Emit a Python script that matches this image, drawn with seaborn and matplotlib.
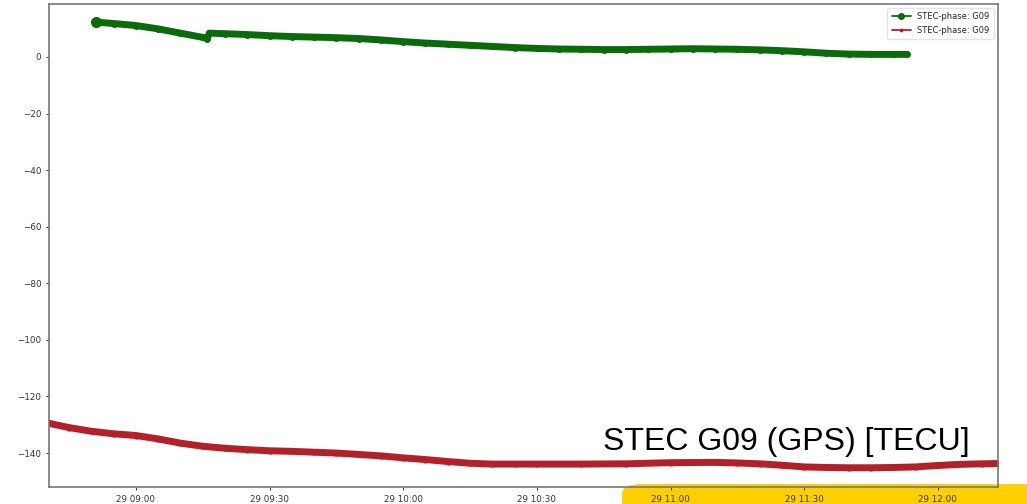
import matplotlib
matplotlib.use("Agg")
import matplotlib.pyplot as plt
import matplotlib.dates as mdates
from matplotlib.lines import Line2D
from matplotlib.patches import FancyBboxPatch
import pandas as pd
import seaborn as sns

DAY = "2023-03-29"

# Phase-derived STEC, satellite G09 (upper arc)
green_times = ["08:51:00", "08:55:00", "09:00:00", "09:05:00", "09:10:00", "09:15:00", "09:16:00",
               "09:16:30", "09:20:00", "09:25:00", "09:30:00", "09:35:00", "09:40:00", "09:45:00",
               "09:50:00", "09:55:00", "10:00:00", "10:05:00", "10:10:00", "10:15:00", "10:20:00",
               "10:25:00", "10:30:00", "10:35:00", "10:40:00", "10:45:00", "10:50:00", "10:55:00",
               "11:00:00", "11:05:00", "11:10:00", "11:15:00", "11:20:00", "11:25:00", "11:30:00",
               "11:35:00", "11:40:00", "11:45:00", "11:50:00", "11:53:00"]
green_tecu = [12.3, 11.8, 11.1, 9.9, 8.4, 6.9, 6.5,
              8.4, 8.2, 7.9, 7.5, 7.2, 7.0, 6.8,
              6.5, 6.0, 5.4, 4.9, 4.5, 4.1, 3.7,
              3.3, 3.0, 2.8, 2.7, 2.6, 2.6, 2.7,
              2.8, 2.9, 2.8, 2.7, 2.5, 2.2, 1.8,
              1.3, 1.0, 0.9, 0.9, 0.9]

# Phase-derived STEC, satellite G09 (lower arc)
red_times = ["08:40:30", "08:45:00", "08:50:00", "08:55:00", "09:00:00", "09:05:00", "09:10:00",
             "09:15:00", "09:20:00", "09:25:00", "09:30:00", "09:35:00", "09:40:00", "09:45:00",
             "09:50:00", "09:55:00", "10:00:00", "10:05:00", "10:10:00", "10:15:00", "10:20:00",
             "10:25:00", "10:30:00", "10:40:00", "10:50:00", "11:00:00", "11:10:00", "11:15:00",
             "11:20:00", "11:25:00", "11:30:00", "11:35:00", "11:40:00", "11:45:00", "11:50:00",
             "11:55:00", "12:00:00", "12:05:00", "12:10:00", "12:13:30"]
red_tecu = [-129.5, -131.0, -132.3, -133.2, -133.8, -135.0, -136.5,
            -137.6, -138.3, -138.8, -139.2, -139.4, -139.7, -140.0,
            -140.5, -141.0, -141.7, -142.3, -143.0, -143.6, -143.9,
            -143.9, -143.9, -143.9, -143.8, -143.4, -143.3, -143.5,
            -143.8, -144.3, -144.9, -145.1, -145.2, -145.2, -145.1,
            -144.9, -144.4, -144.0, -143.8, -143.7]

series_label = "STEC-phase: G09"
panel_title = "STEC G09 (GPS) [TECU]"


def to_stamps(times):
    return pd.to_datetime([f"{DAY} {t}" for t in times], format="%Y-%m-%d %H:%M:%S")


green_df = pd.DataFrame({"time": to_stamps(green_times), "stec": green_tecu})
red_df = pd.DataFrame({"time": to_stamps(red_times), "stec": red_tecu})

sns.set_theme(style="ticks")
plt.rcParams["font.family"] = ["DejaVu Sans"]

fig = plt.figure(figsize=(10.27, 5.04), dpi=100, facecolor="white")
ax = fig.add_axes([49 / 1027, 1 - 487 / 504, (998 - 49) / 1027, (487 - 4) / 504])
ax.patch.set_alpha(0)

GREEN = "#0b6b0b"
RED = "#b3202a"

sns.lineplot(data=green_df, x="time", y="stec", ax=ax, color=GREEN, linewidth=5,
             marker="o", markersize=5, markeredgewidth=0, legend=False)
sns.lineplot(data=red_df, x="time", y="stec", ax=ax, color=RED, linewidth=5,
             marker="o", markersize=4.5, markeredgewidth=0, legend=False)
# first epoch of the upper arc
ax.plot(green_df["time"].iloc[:1], green_df["stec"].iloc[:1], "o", color=GREEN, ms=7)

ax.set_xlim(pd.Timestamp(f"{DAY} 08:40:30"), pd.Timestamp(f"{DAY} 12:13:30"))
ax.set_ylim(-152, 18.7)
ax.set_yticks([0, -20, -40, -60, -80, -100, -120, -140])
ax.xaxis.set_major_locator(mdates.MinuteLocator(byminute=[0, 30]))
ax.xaxis.set_major_formatter(mdates.DateFormatter("%d %H:%M"))
ax.set_xlabel("")
ax.set_ylabel("")
ax.tick_params(labelsize=6.3, length=2.5, width=0.7, colors="#333333", pad=3)
for s in ax.spines.values():
    s.set_color("#777777")
    s.set_linewidth(1.2)

handles = [Line2D([0], [0], color=GREEN, lw=1.3, marker="o", ms=4),
           Line2D([0], [0], color=RED, lw=1.3, marker=".", ms=3.5)]
ax.legend(handles, [series_label, series_label], loc="upper right", fontsize=6,
          frameon=True, framealpha=0.8, edgecolor="#dddddd", borderpad=0.5,
          handlelength=2.3, labelspacing=0.5)

fig.text(970 / 1027, 1 - 450 / 504, panel_title, ha="right", va="baseline",
         fontsize=23, family="Liberation Sans", color="black")

fig.patches.append(FancyBboxPatch((622 / 1027, -0.05), 0.5, 0.05 + 20 / 504,
                                  boxstyle="round,pad=0,rounding_size=0.02",
                                  transform=fig.transFigure, facecolor="#ffd000",
                                  edgecolor="none", zorder=-1, figure=fig))

fig.savefig("out.png", dpi=100, facecolor="white")
